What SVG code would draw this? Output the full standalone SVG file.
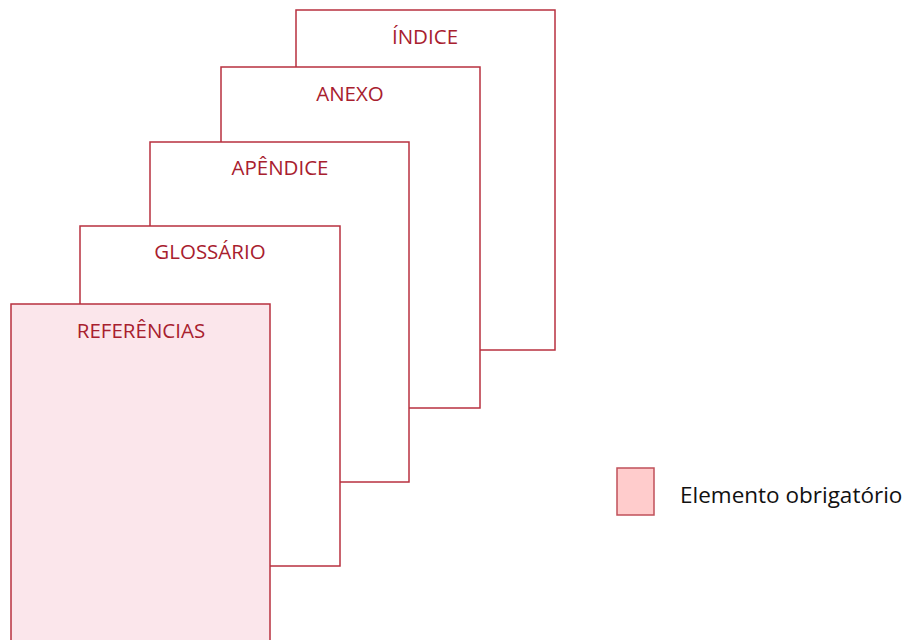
<svg xmlns="http://www.w3.org/2000/svg" width="912" height="640" viewBox="0 0 912 640">
  <style>
    .page { fill: #ffffff; stroke: #b8303f; stroke-width: 1.5; }
    .req { fill: #fbe6eb; stroke: #b8303f; stroke-width: 1.5; }
    .label { font-family: "Open Sans", "Liberation Sans", sans-serif; font-size: 20.5px; fill: #a8202e; text-anchor: middle; }
    .legend-text { font-family: "Open Sans", "Liberation Sans", sans-serif; font-size: 22.5px; fill: #111111; }
  </style>
  <rect width="912" height="640" fill="#ffffff"/>
  <g id="indice">
    <rect class="page" x="296" y="10" width="259" height="340"/>
    <text class="label" x="425" y="44">ÍNDICE</text>
  </g>
  <g id="anexo">
    <rect class="page" x="221" y="67" width="259" height="341"/>
    <text class="label" x="350" y="101">ANEXO</text>
  </g>
  <g id="apendice">
    <rect class="page" x="150" y="142" width="259" height="340"/>
    <text class="label" x="280" y="175">APÊNDICE</text>
  </g>
  <g id="glossario">
    <rect class="page" x="80" y="226" width="260" height="340"/>
    <text class="label" x="210" y="259">GLOSSÁRIO</text>
  </g>
  <g id="referencias">
    <rect class="req" x="11" y="304" width="259" height="345"/>
    <text class="label" x="141" y="338">REFERÊNCIAS</text>
  </g>
  <g id="legenda">
    <rect x="617" y="468" width="37" height="47" fill="#ffcccc" stroke="#c0505a" stroke-width="1.5"/>
    <text class="legend-text" x="680" y="503">Elemento obrigatório</text>
  </g>
</svg>
